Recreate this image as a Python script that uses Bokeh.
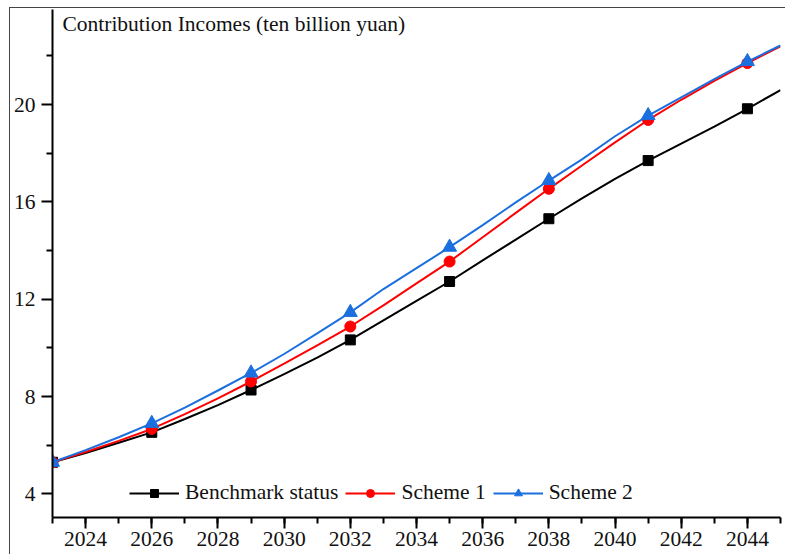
from bokeh.plotting import figure
from bokeh.models import Range1d, Legend, LegendItem, Label, FixedTicker
from bokeh.embed import file_html
from bokeh.resources import INLINE

years = list(range(2023, 2046))
benchmark = [5.30, 5.68, 6.10, 6.53, 7.08, 7.65, 8.27, 8.92, 9.60, 10.33, 11.13, 11.93,
             12.73, 13.60, 14.45, 15.31, 16.15, 16.95, 17.70, 18.40, 19.10, 19.83, 20.60]
scheme1 = [5.30, 5.72, 6.18, 6.67, 7.28, 7.93, 8.62, 9.35, 10.10, 10.88, 11.75, 12.65,
           13.55, 14.55, 15.55, 16.54, 17.50, 18.45, 19.37, 20.20, 20.98, 21.71, 22.40]
scheme2 = [5.30, 5.80, 6.33, 6.90, 7.55, 8.25, 8.97, 9.75, 10.60, 11.46, 12.42, 13.28,
           14.14, 15.05, 15.98, 16.88, 17.75, 18.70, 19.55, 20.30, 21.05, 21.77, 22.43]
series_names = ["Benchmark status", "Scheme 1", "Scheme 2"]
x_ticks = list(range(2024, 2045, 2))
x_minor = list(range(2023, 2046, 1))
y_ticks = [4, 8, 12, 16, 20]
y_minor = [6, 10, 14, 18, 22]
title_text = "Contribution Incomes (ten billion yuan)"

FONT = "Liberation Serif"
FS = "21.5px"

p = figure(width=776, height=547, output_backend="svg", toolbar_location=None,
           x_range=Range1d(2023, 2045), y_range=Range1d(3.03, 23.91),
           min_border_left=40, min_border_right=6, min_border_top=1, min_border_bottom=38)
p.styles = {"margin-left": "9px", "margin-top": "7px",
            "border-left": "1px solid #444", "border-top": "1px solid #444"}
p.background_fill_color = "white"
p.border_fill_color = "white"
p.outline_line_color = None
p.xgrid.visible = False
p.ygrid.visible = False

for ax in (p.xaxis[0], p.yaxis[0]):
    ax.axis_line_width = 2
    ax.axis_line_color = "black"
    ax.major_tick_line_width = 2
    ax.minor_tick_line_width = 2
    ax.major_tick_line_color = "black"
    ax.minor_tick_line_color = "black"
    ax.major_tick_in = 0
    ax.major_tick_out = 11
    ax.minor_tick_in = 0
    ax.minor_tick_out = 6
    ax.major_label_text_font = FONT
    ax.major_label_text_font_size = FS
    ax.major_label_text_color = "#111111"

p.xaxis.ticker = FixedTicker(ticks=x_ticks, minor_ticks=x_minor)
p.yaxis.ticker = FixedTicker(ticks=y_ticks, minor_ticks=y_minor)
p.xaxis.major_label_standoff = 3
p.yaxis.major_label_standoff = 6

colors = ["#000000", "#ff0000", "#1c6fde"]
markers = ["square", "circle", "triangle"]
sizes = [10, 11, 14]
items = []
for name, vals, c, m, s in zip(series_names, [benchmark, scheme1, scheme2], colors, markers, sizes):
    l = p.line(years, vals, line_color=c, line_width=2)
    sc = p.scatter(years[::3], vals[::3], marker=m, size=s, fill_color=c, line_color=c)
    items.append(LegendItem(label=name, renderers=[l, sc]))

legend = Legend(items=items, orientation="horizontal", location=(77, 12),
                glyph_width=50, glyph_height=20, label_standoff=6, spacing=7,
                padding=0, margin=0, border_line_color=None, background_fill_alpha=0,
                label_text_font=FONT, label_text_font_size=FS, label_text_color="#111111",
                label_height=20)
p.add_layout(legend, "center")

p.add_layout(Label(x=2023.30, y=23.79, text=title_text, text_baseline="top",
                   text_font=FONT, text_font_size=FS, text_color="#111111"))

open("out.html", "w").write(file_html(p, INLINE))
